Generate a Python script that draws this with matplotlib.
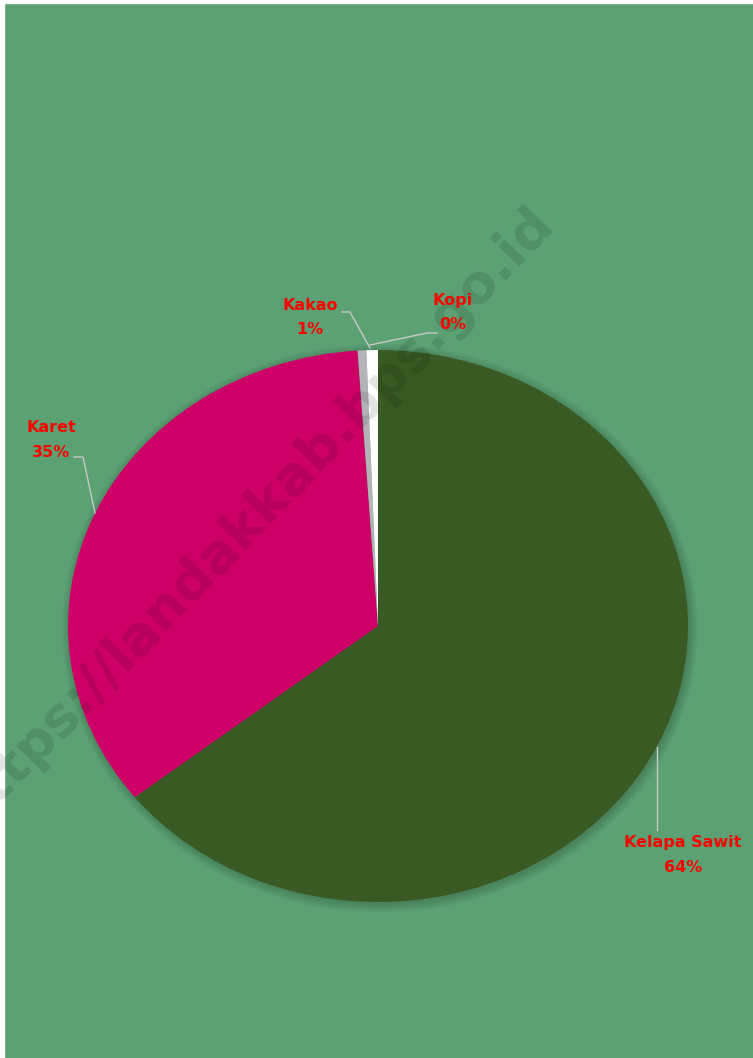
import matplotlib.pyplot as plt
from matplotlib.patches import Ellipse, Rectangle
from matplotlib.lines import Line2D

# data
komoditas = ["Kelapa Sawit", "Karet", "Kopi", "Kakao"]
persen = [64.35, 34.6, 0.45, 0.6]
warna = ["#3A5A23", "#CC0066", "#B4B4B8", "#FFFFFF"]

W, H = 753, 1058
bg = "#5BA174"

fig = plt.figure(figsize=(W / 100, H / 100), dpi=100)
fig.patch.set_facecolor(bg)

# thin white strip left and top
fig.patches.append(Rectangle((0, 0), 4 / W, 1, transform=fig.transFigure,
                             color="white", zorder=-1))
fig.patches.append(Rectangle((0, 1 - 3 / H), 1, 3 / H, transform=fig.transFigure,
                             color="white", zorder=-1))


def fx(x):
    return x / W


def fy(y):
    return 1 - y / H


# pie sits in its bounding box (elliptical, like the original)
left, right, top, bottom = 68, 688, 350, 902
ax = fig.add_axes([fx(left), fy(bottom), (right - left) / W, (bottom - top) / H])
ax.set_facecolor("none")

# soft shadow
for i in range(6):
    ax.add_patch(Ellipse((0.006, -0.008), 2 + 0.01 * i, 2 + 0.012 * i,
                         color="black", alpha=0.03, lw=0, zorder=0,
                         clip_on=False))

ax.pie(persen, colors=warna, startangle=90, counterclock=False,
       wedgeprops=dict(linewidth=0))
ax.set_aspect("auto")
ax.set_xlim(-1, 1)
ax.set_ylim(-1, 1)
ax.axis("off")

# watermark
fig.text(fx(526), fy(196), "https://landakkab.bps.go.id", fontsize=39,
         fontweight="bold", color="black", alpha=0.11, rotation=46,
         rotation_mode="anchor", ha="right", va="top", zorder=5)

# labels
posisi = {"Kelapa Sawit": (683, 843), "Karet": (51, 428),
          "Kopi": (453, 301), "Kakao": (310, 306)}
for nama, p in zip(komoditas, persen):
    x, y = posisi[nama]
    fig.text(fx(x), fy(y), nama, fontsize=11.5, fontweight="bold",
             color="#FF0000", ha="center", va="center", zorder=6)
    fig.text(fx(x), fy(y + 24), f"{p:.0f}%", fontsize=11.5, fontweight="bold",
             color="#FF0000", ha="center", va="center", zorder=6)

# leader lines
garis = [
    [(342, 312), (350, 312), (370, 348)],
    [(437, 333), (427, 333), (370, 345)],
    [(74, 457), (83, 457), (95, 513)],
    [(657, 747), (657, 830)],
]
for g in garis:
    fig.lines.append(Line2D([fx(a) for a, b in g], [fy(b) for a, b in g],
                            transform=fig.transFigure, color="#C8C8C8",
                            lw=1, zorder=6))

fig.savefig("out.png", dpi=100, facecolor=fig.get_facecolor())
